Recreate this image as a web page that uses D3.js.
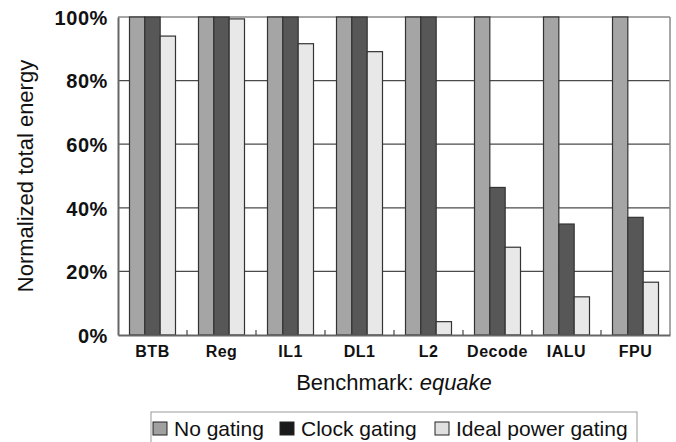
<!DOCTYPE html>
<html>
<head>
<meta charset="utf-8">
<script src="https://cdn.jsdelivr.net/npm/d3@7"></script>
<style>
  body { margin: 0; background: #fff; }
  text { font-family: "Liberation Sans", Arial, sans-serif; fill: #111; }
</style>
</head>
<body>
<div id="chart"></div>
<script>
// data (percent)
var units = ["BTB", "Reg", "IL1", "DL1", "L2", "Decode", "IALU", "FPU"];
var seriesNames = ["No gating", "Clock gating", "Ideal power gating"];
var noGating = [100, 100, 100, 100, 100, 100, 100, 100];
var clockGating = [100, 100, 100, 100, 100, 46.4, 34.9, 37.0];
var idealGating = [94.0, 99.4, 91.6, 89.1, 4.2, 27.6, 12.0, 16.6];
var yTicks = [0, 20, 40, 60, 80, 100];

var fills = ["#a5a5a5", "#575757", "#e8e8e8"];
var legendFills = ["#a0a0a0", "#1a1a1a", "#e0e0e0"];

drawChart();

function drawChart() {
  var W = 676, H = 442;
  var margin = {top: 17, right: 6, bottom: 107, left: 118};
  var width = W - margin.left - margin.right,
      height = H - margin.top - margin.bottom;

  var svg = d3.select("#chart").append("svg").attr("width", W).attr("height", H);
  var g = svg.append("g").attr("transform", "translate(" + margin.left + "," + margin.top + ")");

  var x0 = d3.scaleBand().domain(units).range([0, width]).paddingInner(0).paddingOuter(0);
  var x1 = d3.scaleBand().domain(seriesNames).range([x0.bandwidth() / 6, x0.bandwidth() * 5 / 6]);
  var y = d3.scaleLinear().domain([0, 100]).range([height, 0]);

  // grid
  g.selectAll(".grid").data(yTicks.slice(1, 5)).enter().append("line")
    .attr("x1", 0).attr("x2", width)
    .attr("y1", function(d) { return y(d); }).attr("y2", function(d) { return y(d); })
    .attr("stroke", "#4a4a4a").attr("stroke-width", 1.2);

  // frame top/right
  g.append("line").attr("x1", 0).attr("x2", width).attr("y1", 0).attr("y2", 0)
    .attr("stroke", "#888").attr("stroke-width", 1.5);
  g.append("line").attr("x1", width).attr("x2", width).attr("y1", 0).attr("y2", height)
    .attr("stroke", "#888").attr("stroke-width", 1.5);

  var rows = units.map(function(u, i) {
    return {unit: u, vals: [noGating[i], clockGating[i], idealGating[i]]};
  });

  var grp = g.selectAll(".grp").data(rows).enter().append("g")
    .attr("transform", function(d) { return "translate(" + x0(d.unit) + ",0)"; });

  grp.selectAll("rect").data(function(d) {
      return d.vals.map(function(v, k) { return {k: k, v: v}; });
    }).enter().append("rect")
    .attr("x", function(d) { return x1(seriesNames[d.k]); })
    .attr("width", x1.bandwidth())
    .attr("y", function(d) { return y(d.v); })
    .attr("height", function(d) { return height - y(d.v); })
    .attr("fill", function(d) { return fills[d.k]; })
    .attr("stroke", "#333").attr("stroke-width", 1.2);

  // y axis
  var yAxis = g.append("g").call(d3.axisLeft(y).tickValues(yTicks)
      .tickFormat(function(d) { return d + "%"; }).tickSize(0).tickPadding(10));
  yAxis.select(".domain").attr("stroke", "#666").attr("stroke-width", 2);
  yAxis.selectAll("text").style("font-size", "20px").style("font-weight", "bold")
    .style("letter-spacing", "0.6px").attr("dy", "0.36em");

  // x axis
  var xAxis = g.append("g").attr("transform", "translate(0," + height + ")")
    .call(d3.axisBottom(x0).tickSize(0).tickPadding(11));
  xAxis.select(".domain").attr("stroke", "#666").attr("stroke-width", 2);
  xAxis.selectAll("text").style("font-size", "16px").style("font-weight", "bold")
    .style("letter-spacing", "0.5px");

  // boundary ticks
  g.selectAll(".btick").data(units.slice(1)).enter().append("line")
    .attr("x1", function(d) { return x0(d); }).attr("x2", function(d) { return x0(d); })
    .attr("y1", height).attr("y2", height - 5)
    .attr("stroke", "#444").attr("stroke-width", 1.2);

  // axis titles
  svg.append("text").attr("transform", "translate(33," + (margin.top + height / 2) + ") rotate(-90)")
    .attr("text-anchor", "middle").style("font-size", "22px").text("Normalized total energy");

  var xt = svg.append("text").attr("x", margin.left + width / 2).attr("y", 390)
    .attr("text-anchor", "middle").style("font-size", "22px");
  xt.append("tspan").text("Benchmark: ");
  xt.append("tspan").style("font-style", "italic").text("equake");

  // legend
  var lg = svg.append("g");
  lg.append("rect").attr("x", 151).attr("y", 412).attr("width", 486).attr("height", 40)
    .attr("fill", "#fff").attr("stroke", "#999").attr("stroke-width", 1);
  var lx = [153, 280, 435];
  seriesNames.forEach(function(s, k) {
    lg.append("rect").attr("x", lx[k]).attr("y", 422).attr("width", 14).attr("height", 13)
      .attr("fill", legendFills[k]).attr("stroke", "#222").attr("stroke-width", 1);
    lg.append("text").attr("x", lx[k] + 21).attr("y", 436).style("font-size", "21px").text(s);
  });
}
</script>
</body>
</html>
